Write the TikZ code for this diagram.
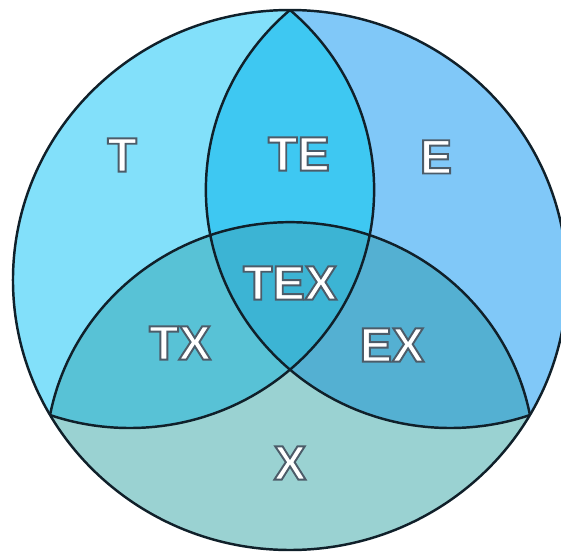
\documentclass[tikz,border=0pt]{standalone}
\usepackage{fontspec}
\setmainfont{Liberation Sans}
\usepackage{tikz}
\definecolor{colT}{HTML}{82E0FA}
\definecolor{colE}{HTML}{80C8F8}
\definecolor{colX}{HTML}{9AD2D2}
\definecolor{colTE}{HTML}{3EC8F2}
\definecolor{colTX}{HTML}{58C2D6}
\definecolor{colEX}{HTML}{54B0D2}
\definecolor{colTEX}{HTML}{3CB4D4}
\definecolor{linecol}{HTML}{10202A}
% white letters with a slate rim (fill + stroke text mode)
\newcommand{\vlabel}[1]{\special{pdf:literal direct 2 Tr 1.1 w 0.30 0.36 0.41 RG}#1\special{pdf:literal direct 0 Tr}}

\begin{document}
\begin{tikzpicture}[
		border/.style={draw=linecol, line width=1.4pt},
		lbl/.style={font=\fontsize{27.5}{32}\selectfont\bfseries, text=white, inner sep=0pt}]
		
		\useasboundingbox (-5.80,-5.50) rectangle (5.42,5.60);
		
		\begin{scope}[xscale=1.026, scale=5.4]
			\def\ctrdist{0.668}
			\pgfmathsetmacro{\arcrad}{sqrt(\ctrdist*\ctrdist-\ctrdist+1)}
			
			% region fills
			\begin{scope}
				\clip (0,0) circle (1);
				\fill[colX] (0,0) circle (1);
				\fill[colT] (150:\ctrdist) circle (\arcrad);
				\fill[colE] (30:\ctrdist) circle (\arcrad);
				\fill[colX] (270:\ctrdist) circle (\arcrad);
				\begin{scope}
					\clip (150:\ctrdist) circle (\arcrad);
					\fill[colTE] (30:\ctrdist) circle (\arcrad);
					\fill[colTX] (270:\ctrdist) circle (\arcrad);
				\end{scope}
				\begin{scope}
					\clip (30:\ctrdist) circle (\arcrad);
					\fill[colEX] (270:\ctrdist) circle (\arcrad);
					\clip (150:\ctrdist) circle (\arcrad);
					\fill[colTEX] (270:\ctrdist) circle (\arcrad);
				\end{scope}
				
				% inner arcs
				\draw[border] (150:\ctrdist) circle (\arcrad);
				\draw[border] (30:\ctrdist) circle (\arcrad);
				\draw[border] (270:\ctrdist) circle (\arcrad);
			\end{scope}
			\draw[border] (0,0) circle (1);
			
			% labels
			\node[lbl] (nT) at (-0.606,0.463) {\vlabel{T}};
			\node[lbl] (nTE) at (0.032,0.467) {\vlabel{TE}};
			\node[lbl] (nE) at (0.527,0.456) {\vlabel{E}};
			\node[lbl] (nTEX) at (0,-0.011) {\vlabel{TEX}};
			\node[lbl] (nTX) at (-0.397,-0.233) {\vlabel{TX}};
			\node[lbl] (nEX) at (0.368,-0.241) {\vlabel{EX}};
			\node[lbl] (nX) at (0,-0.678) {\vlabel{X}};
		\end{scope}
		
	\end{tikzpicture}
\end{document}
